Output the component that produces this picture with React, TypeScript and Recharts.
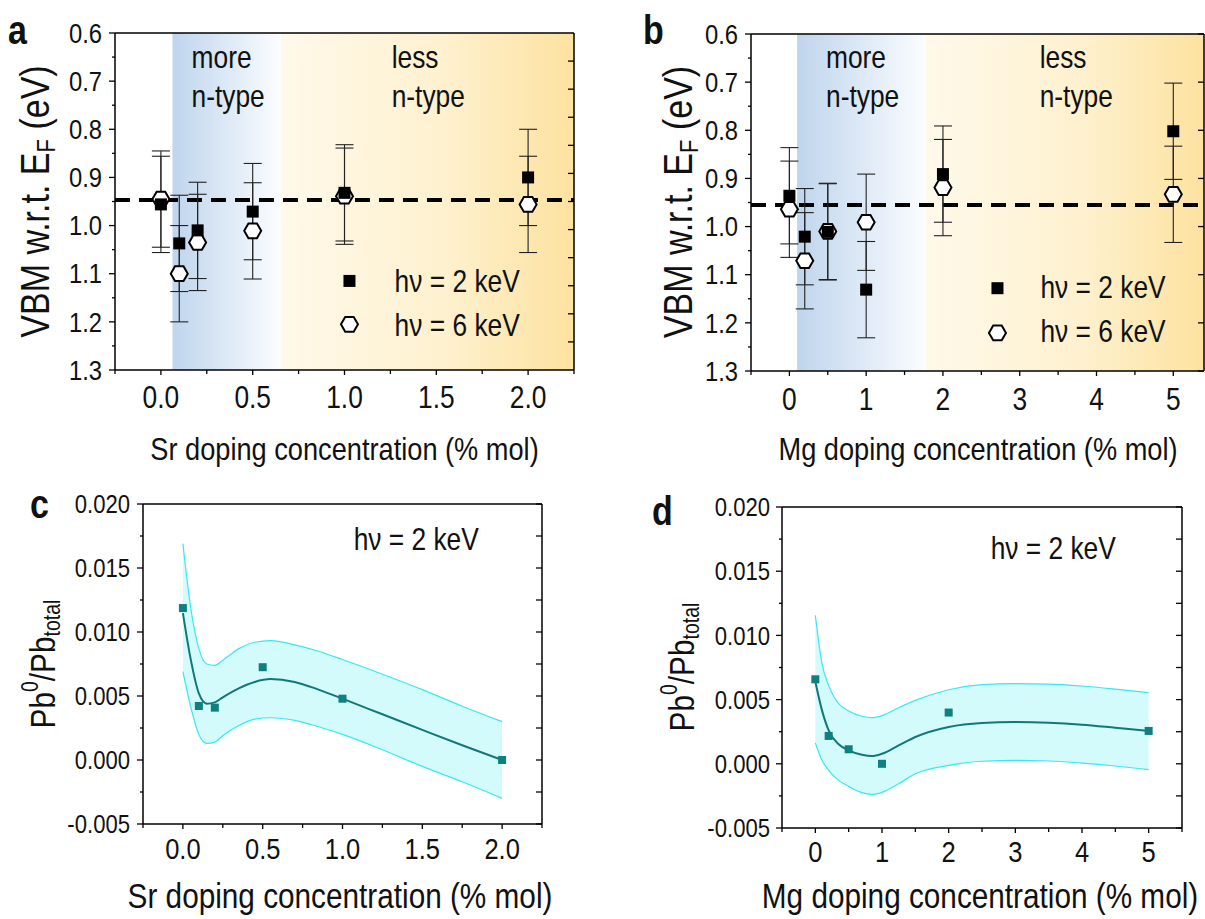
import React from 'react'
import {
  ComposedChart, Scatter, Line, Area, XAxis, YAxis, ErrorBar,
  ReferenceLine, ReferenceArea, ReferenceDot,
} from 'recharts'

// Arial-like face squeezed horizontally to get the narrow look of the original
const FONT = "'Liberation Sans', Arial, sans-serif"
const SX = 0.85

// ---- a : VBM vs Sr doping
const srConc = [0, 0.1, 0.2, 0.5, 1.0, 2.0]
const vbmSr2keV = [0.956, 1.037, 1.010, 0.971, 0.932, 0.900]
const vbmSr6keV = [0.945, 1.100, 1.035, 1.011, 0.939, 0.956]
const errSr2keV = [0.1, 0.1, 0.1, 0.1, 0.1, 0.1]
const errSr6keV = [0.1, 0.1, 0.1, 0.1, 0.1, 0.1]
const vbmSrLevel = 0.947

// ---- b : VBM vs Mg doping
const mgConc = [0, 0.2, 0.5, 1, 2, 5]
const vbmMg2keV = [0.936, 1.021, 1.011, 1.131, 0.891, 0.802]
const vbmMg6keV = [0.964, 1.071, 1.010, 0.991, 0.919, 0.933]
const errMg2keV = [0.1, 0.1, 0.1, 0.1, 0.1, 0.1]
const errMg6keV = [0.1, 0.1, 0.1, 0.1, 0.1, 0.1]
const vbmMgLevel = 0.955

// ---- c : Pb0/Pb total vs Sr
const pbSr = [0.01187, 0.00422, 0.00409, 0.00725, 0.00479, 0.0]
const fitSrX = [0, 0.05, 0.1, 0.15, 0.2, 0.25, 0.35, 0.45, 0.55, 0.7, 0.85, 1.0, 1.25, 1.5, 1.75, 2.0]
const fitSr = [0.01148, 0.0078, 0.0052, 0.0044, 0.0045, 0.0049, 0.0056, 0.0061, 0.00632, 0.0061, 0.0055, 0.00479, 0.00357, 0.00235, 0.00115, 0.0]
const fitSrHigh = [0.0169, 0.0118, 0.0087, 0.0075, 0.0074, 0.0078, 0.0087, 0.0092, 0.00933, 0.009, 0.0085, 0.00785, 0.0067, 0.0055, 0.0042, 0.003]
const fitSrLow = [0.0069, 0.0041, 0.002, 0.0013, 0.0014, 0.0019, 0.0027, 0.0032, 0.0033, 0.0031, 0.0026, 0.002, 0.0008, -0.0005, -0.0017, -0.003]

// ---- d : Pb0/Pb total vs Mg
const pbMg = [0.00658, 0.00217, 0.00113, 0.0, 0.00399, 0.00256]
const fitMgX = [0, 0.1, 0.2, 0.35, 0.5, 0.7, 0.85, 1.0, 1.25, 1.5, 2.0, 2.5, 3.0, 3.5, 4.0, 4.5, 5.0]
const fitMg = [0.0064, 0.00416, 0.0026, 0.00152, 0.00105, 0.0007, 0.0006, 0.00078, 0.00143, 0.00209, 0.00287, 0.00318, 0.00325, 0.0032, 0.00305, 0.00281, 0.00256]
const fitMgHigh = [0.01156, 0.0078, 0.00611, 0.00468, 0.00411, 0.0037, 0.00359, 0.00375, 0.00437, 0.00494, 0.00577, 0.00616, 0.00624, 0.00621, 0.00606, 0.00582, 0.00554]
const fitMgLow = [0.00162, 0.00027, -0.00051, -0.00129, -0.00176, -0.00225, -0.00238, -0.00222, -0.00155, -0.00077, -0.00012, 0.0002, 0.00027, 0.00022, 0.00006, -0.00017, -0.00046]

// ---- ticks
const vbmMajor = [0.6, 0.7, 0.8, 0.9, 1.0, 1.1, 1.2, 1.3]
const vbmMinor = [0.65, 0.75, 0.85, 0.95, 1.05, 1.15, 1.25]
const vbmDummy = [1, 2, 3, 4, 5, 6, 7, 8, 9, 10, 11]
const srMajor = [0, 0.5, 1, 1.5, 2]
const srMinor = [-0.25, 0.25, 0.75, 1.25, 1.75, 2.25]
const mgMajor = [0, 1, 2, 3, 4, 5]
const mgMinor = [-0.5, 0.5, 1.5, 2.5, 3.5, 4.5, 5.5]
const pbMajor = [-0.005, 0, 0.005, 0.01, 0.015, 0.02]
const pbMinor = [-0.0025, 0.0025, 0.0075, 0.0125, 0.0175]

const byX = (xs: number[], ys: number[], errs?: number[]) =>
  xs.map((x, i) => ({ x, y: ys[i], err: errs ? errs[i] : 0 }))
const bandOf = (xs: number[], lo: number[], hi: number[]) =>
  xs.map((x, i) => ({ x, band: [lo[i], hi[i]] }))
const sorted = (...l: number[][]) => l.flat().sort((a, b) => a - b)

const NText = ({ x, y, rotate, children, ...rest }: any) => (
  <text
    transform={`translate(${x},${y})${rotate ? ` rotate(${rotate})` : ''} scale(${SX},1)`}
    fontFamily={FONT} fill="#111" {...rest}
  >
    {children}
  </text>
)

type Side = 'left' | 'right' | 'top' | 'bottom'
function makeTick(side: Side, major: number[], o: { fmt?: (v: number) => string; size?: number; gap?: number; len?: number; minor?: number } = {}) {
  const { fmt, size = 26, gap = 12, len = 5, minor = 3 } = o
  return (props: any) => {
    const { x, y, payload } = props
    const v = Number(payload.value)
    const isMajor = major.some((m) => Math.abs(m - v) < 1e-9)
    const l = isMajor ? len : minor
    let ln: number[]
    if (side === 'left') ln = [x - l, y, x, y]
    else if (side === 'right') ln = [x, y, x - l, y]
    else ln = [x, y, x, y + l]
    let label = null
    if (fmt && isMajor) {
      label = side === 'left'
        ? <NText x={x - gap} y={y} textAnchor="end" dominantBaseline="central" fontSize={size}>{fmt(v)}</NText>
        : <NText x={x} y={y + gap} textAnchor="middle" dominantBaseline="central" fontSize={size}>{fmt(v)}</NText>
    }
    return (
      <g>
        <line x1={ln[0]} y1={ln[1]} x2={ln[2]} y2={ln[3]} stroke="#000" strokeWidth={1.3} />
        {label}
      </g>
    )
  }
}

const axisLine = { stroke: '#000', strokeWidth: 1.5 }

const hexPoints = (cx: number, cy: number, r: number) =>
  [0, 60, 120, 180, 240, 300].map((a) => {
    const t = (a * Math.PI) / 180
    return `${cx + r * Math.cos(t)},${cy + r * Math.sin(t)}`
  }).join(' ')

const Hexagon = (p: any) => <polygon points={hexPoints(p.cx, p.cy, 8.5)} fill="#fff" stroke="#000" strokeWidth={2} />
const BlackSquare = (p: any) => <rect x={p.cx - 6} y={p.cy - 6} width={12} height={12} fill="#000" />
const TealSquare = (p: any) => <rect x={p.cx - 4} y={p.cy - 4} width={8} height={8} fill="#0f7f7f" />
const textShape = (s: string, size: number) => (p: any) => (
  <NText x={p.cx} y={p.cy} fontSize={size}>{s}</NText>
)

type Margin = { top: number; right: number; bottom: number; left: number }
// every axis is 1px thick, so the plot area edge = margin + 1
const m1 = (m: Margin) => ({ top: m.top - 1, right: m.right - 1, bottom: m.bottom - 1, left: m.left - 1 })

interface VbmProps {
  id: string
  width: number
  height: number
  margin: Margin
  xs: number[]; v2: number[]; v6: number[]; e2: number[]; e6: number[]; level: number
  xDomain: [number, number]; xMajor: number[]; xMinor: number[]; xFmt: (v: number) => string; xGap: number
  rightDomain: [number, number]; rightTicks: number[]; rightReversed: boolean
  blue: [number, number]; orange: [number, number]
  moreX: number; lessX: number; line1Y: number; line2Y: number
  legX: number; leg2Y: number; leg6Y: number; legTextX: number; legText2Y: number; legText6Y: number
}

function VbmPanel(p: VbmProps) {
  const xTicks = sorted(p.xMajor, p.xMinor)
  const yTicks = sorted(vbmMajor, vbmMinor)
  const ids = { xAxisId: 'x', yAxisId: 'y' }
  return (
    <ComposedChart width={p.width} height={p.height} margin={m1(p.margin)}>
      <defs>
        <linearGradient id={`blue-${p.id}`} x1="0" y1="0" x2="1" y2="0">
          <stop offset="0%" stopColor="#bfd5ed" />
          <stop offset="100%" stopColor="#fbfdff" />
        </linearGradient>
        <linearGradient id={`orange-${p.id}`} x1="0" y1="0" x2="1" y2="0">
          <stop offset="0%" stopColor="#fff9ea" />
          <stop offset="55%" stopColor="#fef1cf" />
          <stop offset="100%" stopColor="#fde2a0" />
        </linearGradient>
      </defs>
      <XAxis xAxisId="x" type="number" dataKey="x" domain={p.xDomain} ticks={xTicks} interval={0}
        allowDataOverflow height={1} tickSize={0} tickMargin={0} axisLine={axisLine} tickLine={false}
        tick={makeTick('bottom', p.xMajor, { fmt: p.xFmt, size: 31, gap: p.xGap, len: 5, minor: 4 })} />
      <XAxis xAxisId="top" orientation="top" type="number" domain={p.xDomain} ticks={xTicks} interval={0}
        allowDataOverflow height={1} tickSize={0} tickMargin={0} axisLine={axisLine} tickLine={false}
        tick={makeTick('top', p.xMajor, { len: 5, minor: 4 })} />
      <YAxis yAxisId="y" type="number" dataKey="y" domain={[0.6, 1.3]} reversed ticks={yTicks} interval={0}
        allowDataOverflow width={1} tickSize={0} tickMargin={0} axisLine={axisLine} tickLine={false}
        tick={makeTick('left', vbmMajor, { fmt: (v) => v.toFixed(1), size: 28, gap: 13, len: 6, minor: 3 })} />
      <YAxis yAxisId="right" orientation="right" type="number" domain={p.rightDomain} reversed={p.rightReversed}
        ticks={p.rightTicks} interval={0} allowDataOverflow width={1} tickSize={0} tickMargin={0}
        axisLine={axisLine} tickLine={false} tick={makeTick('right', p.rightTicks, { len: 6 })} />

      <ReferenceArea {...ids} x1={p.blue[0]} x2={p.blue[1]} fill={`url(#blue-${p.id})`} fillOpacity={1} stroke="none" />
      <ReferenceArea {...ids} x1={p.orange[0]} x2={p.orange[1]} fill={`url(#orange-${p.id})`} fillOpacity={1} stroke="none" />

      <ReferenceLine {...ids} y={p.level} stroke="#000" strokeWidth={4} strokeDasharray="15 9" />

      <Scatter {...ids} name="hν = 6 keV" data={byX(p.xs, p.v6, p.e6)} shape={Hexagon} isAnimationActive={false}>
        <ErrorBar dataKey="err" direction="y" width={9} stroke="#222" strokeWidth={1.1} />
      </Scatter>
      <Scatter {...ids} name="hν = 2 keV" data={byX(p.xs, p.v2, p.e2)} shape={BlackSquare} isAnimationActive={false}>
        <ErrorBar dataKey="err" direction="y" width={9} stroke="#222" strokeWidth={1.1} />
      </Scatter>

      <ReferenceDot {...ids} x={p.moreX} y={p.line1Y} r={0} shape={textShape('more', 31)} />
      <ReferenceDot {...ids} x={p.moreX} y={p.line2Y} r={0} shape={textShape('n-type', 31)} />
      <ReferenceDot {...ids} x={p.lessX} y={p.line1Y} r={0} shape={textShape('less', 31)} />
      <ReferenceDot {...ids} x={p.lessX} y={p.line2Y} r={0} shape={textShape('n-type', 31)} />

      <ReferenceDot {...ids} x={p.legX} y={p.leg2Y} r={0} shape={BlackSquare} />
      <ReferenceDot {...ids} x={p.legX} y={p.leg6Y} r={0} shape={Hexagon} />
      <ReferenceDot {...ids} x={p.legTextX} y={p.legText2Y} r={0} shape={textShape('hν = 2 keV', 31)} />
      <ReferenceDot {...ids} x={p.legTextX} y={p.legText6Y} r={0} shape={textShape('hν = 6 keV', 31)} />
    </ComposedChart>
  )
}

interface PbProps {
  width: number
  height: number
  margin: Margin
  xs: number[]; ys: number[]
  fitX: number[]; fit: number[]; lo: number[]; hi: number[]
  xDomain: [number, number]; xMajor: number[]; xMinor: number[]; xFmt: (v: number) => string
  xGap: number; yGap: number
  noteX: number; noteY: number
}

function PbPanel(p: PbProps) {
  const xTicks = sorted(p.xMajor, p.xMinor)
  const yTicks = sorted(pbMajor, pbMinor)
  const ids = { xAxisId: 'x', yAxisId: 'y' }
  return (
    <ComposedChart width={p.width} height={p.height} margin={m1(p.margin)}>
      <XAxis xAxisId="x" type="number" dataKey="x" domain={p.xDomain} ticks={xTicks} interval={0}
        allowDataOverflow height={1} tickSize={0} tickMargin={0} axisLine={axisLine} tickLine={false}
        tick={makeTick('bottom', p.xMajor, { fmt: p.xFmt, size: 30, gap: p.xGap, len: 5, minor: 4 })} />
      <XAxis xAxisId="top" orientation="top" type="number" domain={p.xDomain} ticks={xTicks} interval={0}
        allowDataOverflow height={1} tickSize={0} tickMargin={0} axisLine={axisLine} tickLine={false}
        tick={makeTick('top', p.xMajor, { len: 5, minor: 4 })} />
      <YAxis yAxisId="y" type="number" dataKey="y" domain={[-0.005, 0.02]} ticks={yTicks} interval={0}
        allowDataOverflow width={1} tickSize={0} tickMargin={0} axisLine={axisLine} tickLine={false}
        tick={makeTick('left', pbMajor, { fmt: (v) => v.toFixed(3), size: 26, gap: p.yGap, len: 6, minor: 3 })} />
      <YAxis yAxisId="right" orientation="right" type="number" domain={[-0.005, 0.02]} ticks={yTicks} interval={0}
        allowDataOverflow width={1} tickSize={0} tickMargin={0} axisLine={axisLine} tickLine={false}
        tick={makeTick('right', yTicks, { len: 6 })} />

      <Area {...ids} type="monotone" data={bandOf(p.fitX, p.lo, p.hi)} dataKey="band"
        fill="#d3fbfb" fillOpacity={1} stroke="#38e8ef" strokeWidth={1.2} isAnimationActive={false} />
      <Line {...ids} type="monotone" data={byX(p.fitX, p.fit)} dataKey="y" stroke="#127777" strokeWidth={2}
        dot={false} isAnimationActive={false} />
      <Scatter {...ids} data={byX(p.xs, p.ys)} shape={TealSquare} isAnimationActive={false} />

      <ReferenceDot {...ids} x={p.noteX} y={p.noteY} r={0} shape={textShape('hν = 2 keV', 31)} />
    </ComposedChart>
  )
}

const VbmTitle = ({ x, y }: { x: number; y: number }) => (
  <NText x={x} y={y} rotate={-90} textAnchor="middle" dominantBaseline="central" fontSize={40}>
    VBM w.r.t. E<tspan fontSize={26} dy={10}>F</tspan><tspan dy={-10}> (eV)</tspan>
  </NText>
)
const PbTitle = ({ x, y }: { x: number; y: number }) => (
  <NText x={x} y={y} rotate={-90} textAnchor="middle" dominantBaseline="central" fontSize={35}>
    Pb<tspan fontSize={23} dy={-13}>0</tspan><tspan dy={13}>/Pb</tspan><tspan fontSize={23} dy={9}>total</tspan>
  </NText>
)

export default function App() {
  const srFmt = (v: number) => v.toFixed(1)
  const mgFmt = (v: number) => String(v)
  return (
    <div style={{ position: 'absolute', left: 0, top: 0, width: 1205, height: 919, background: '#fff', overflow: 'hidden' }}>
      <div style={{ position: 'absolute', left: 0, top: 0 }}>
        <VbmPanel id="a" width={600} height={470} margin={{ top: 33, left: 115, right: 26, bottom: 100 }}
          xs={srConc} v2={vbmSr2keV} v6={vbmSr6keV} e2={errSr2keV} e6={errSr6keV} level={vbmSrLevel}
          xDomain={[-0.25, 2.25]} xMajor={srMajor} xMinor={srMinor} xFmt={srFmt} xGap={27}
          rightDomain={[0, 12]} rightTicks={vbmDummy} rightReversed={false}
          blue={[0.063, 0.653]} orange={[0.653, 2.25]}
          moreX={0.167} lessX={1.257} line1Y={0.673} line2Y={0.754}
          legX={1.027} leg2Y={1.115} leg6Y={1.205} legTextX={1.273} legText2Y={1.139} legText6Y={1.229} />
      </div>
      <div style={{ position: 'absolute', left: 600, top: 0 }}>
        <VbmPanel id="b" width={605} height={470} margin={{ top: 34, left: 151, right: 1, bottom: 99 }}
          xs={mgConc} v2={vbmMg2keV} v6={vbmMg6keV} e2={errMg2keV} e6={errMg6keV} level={vbmMgLevel}
          xDomain={[-0.5, 5.4]} xMajor={mgMajor} xMinor={mgMinor.filter((v) => v < 5.4)} xFmt={mgFmt} xGap={28}
          rightDomain={[0.6, 1.3]} rightTicks={vbmMajor} rightReversed
          blue={[0.1, 1.78]} orange={[1.78, 5.4]}
          moreX={0.477} lessX={3.26} line1Y={0.671} line2Y={0.752}
          legX={2.71} leg2Y={1.128} leg6Y={1.221} legTextX={3.27} legText2Y={1.149} legText6Y={1.24} />
      </div>
      <div style={{ position: 'absolute', left: 0, top: 470 }}>
        <PbPanel width={600} height={449} margin={{ top: 34, left: 143, right: 58, bottom: 95 }}
          xs={srConc} ys={pbSr} fitX={fitSrX} fit={fitSr} lo={fitSrLow} hi={fitSrHigh}
          xDomain={[-0.25, 2.25]} xMajor={srMajor} xMinor={srMinor} xFmt={srFmt} xGap={25} yGap={13}
          noteX={1.07} noteY={0.0164} />
      </div>
      <div style={{ position: 'absolute', left: 600, top: 470 }}>
        <PbPanel width={605} height={449} margin={{ top: 37, left: 182, right: 23, bottom: 91 }}
          xs={mgConc} ys={pbMg} fitX={fitMgX} fit={fitMg} lo={fitMgLow} hi={fitMgHigh}
          xDomain={[-0.5, 5.5]} xMajor={mgMajor} xMinor={mgMinor} xFmt={mgFmt} xGap={24} yGap={12}
          noteX={2.63} noteY={0.01597} />
      </div>

      <svg width={1205} height={919} style={{ position: 'absolute', left: 0, top: 0, pointerEvents: 'none' }}>
        <NText x={8} y={44} fontSize={40} fontWeight="bold">a</NText>
        <NText x={643} y={44} fontSize={40} fontWeight="bold">b</NText>
        <NText x={30} y={518} fontSize={40} fontWeight="bold">c</NText>
        <NText x={652} y={525} fontSize={40} fontWeight="bold">d</NText>

        <VbmTitle x={35} y={201.5} />
        <VbmTitle x={678} y={202} />
        <PbTitle x={43} y={664} />
        <PbTitle x={682} y={667} />

        <NText x={344.5} y={449} textAnchor="middle" dominantBaseline="central" fontSize={32}>Sr doping concentration (% mol)</NText>
        <NText x={978} y={449} textAnchor="middle" dominantBaseline="central" fontSize={32}>Mg doping concentration (% mol)</NText>
        <NText x={340} y={896} textAnchor="middle" dominantBaseline="central" fontSize={35}>Sr doping concentration (% mol)</NText>
        <NText x={980} y={896} textAnchor="middle" dominantBaseline="central" fontSize={35}>Mg doping concentration (% mol)</NText>
      </svg>
    </div>
  )
}
